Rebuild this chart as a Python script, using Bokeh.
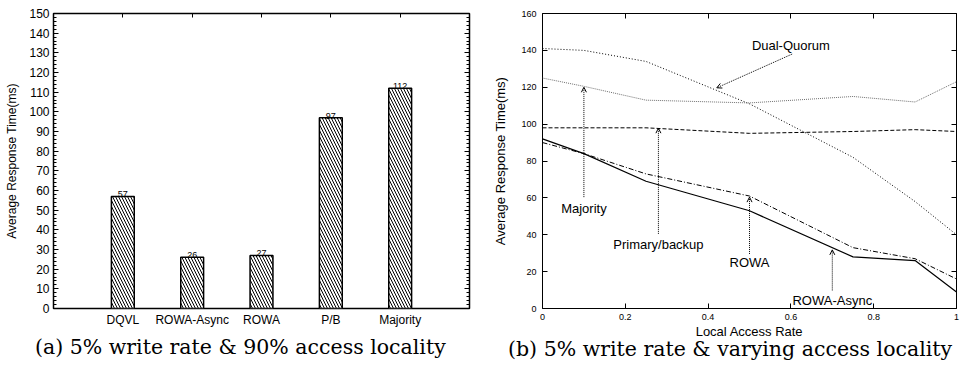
from bokeh.plotting import figure
from bokeh.layouts import row
from bokeh.models import (FactorRange, Range1d, SingleIntervalTicker, FixedTicker,
                          LinearAxis, CategoricalAxis, Title, Arrow, OpenHead,
                          ColumnDataSource, CustomJSTickFormatter)
from bokeh.core.properties import value
from bokeh.embed import file_html
from bokeh.resources import INLINE

# ---------------- data ----------------
categories = ["DQVL", "ROWA-Async", "ROWA", "P/B", "Majority"]
bar_values = [57, 26, 27, 97, 112]

access_rate = [0.0, 0.1, 0.25, 0.5, 0.75, 0.9, 1.0]
dual_quorum = [141, 140, 134, 111, 82, 58, 40]
majority = [125, 120.5, 113, 111.5, 115, 112, 123]
primary_backup = [98, 98, 98, 95, 96, 97, 96]
rowa = [92, 84, 69, 53, 28, 26, 9]
rowa_async = [90, 84, 73, 61, 33, 27, 16]

x_ticks = [0, 0.2, 0.4, 0.6, 0.8, 1]

ann_text = ["Dual-Quorum", "Majority", "Primary/backup", "ROWA", "ROWA-Async"]
ann_x = [0.6, 0.1, 0.28, 0.5, 0.7]
ann_y = [142.5, 54.5, 34.5, 24.8, 4.3]
arr_x0 = [0.603, 0.1, 0.28, 0.5, 0.7]
arr_y0 = [138, 60.4, 40.5, 29.6, 9.8]
arr_x1 = [0.421, 0.1, 0.28, 0.5, 0.7]
arr_y1 = [119.7, 120, 97.8, 60.4, 31.8]

caption_a = "(a) 5% write rate & 90% access locality"
caption_b = "(b) 5% write rate & varying access locality"

SANS = "Liberation Sans"
SERIF = "DejaVu Serif"


def hide_labels(ax):
    ax.major_label_text_font_size = "0px"
    ax.major_label_text_color = None
    ax.major_label_standoff = 0


def caption(text, offset, standoff):
    return Title(text=text, align="left", offset=offset, vertical_align="top",
                 standoff=standoff, text_font=SERIF, text_font_size="20.5px",
                 text_font_style="normal", text_color="black")


# ---------------- left: bar chart ----------------
p1 = figure(width=490, height=372,
            x_range=FactorRange(*categories, range_padding=0.2),
            y_range=Range1d(0, 150),
            output_backend="svg", toolbar_location=None,
            min_border_left=53, min_border_right=21,
            min_border_top=13, min_border_bottom=54)
p1.background_fill_color = "white"
p1.border_fill_color = "white"
p1.outline_line_color = "black"
p1.outline_line_width = 1.5
p1.xgrid.visible = False
p1.ygrid.visible = False

src1 = ColumnDataSource(dict(cat=categories, val=bar_values,
                             lab=[str(v) for v in bar_values]))
p1.vbar(x="cat", top="val", width=0.33, source=src1,
        fill_color="white", line_color="black", line_width=1.5,
        hatch_pattern="\\", hatch_color="black", hatch_scale=6, hatch_weight=1)
p1.text(x="cat", y="val", text="lab", source=src1,
        text_align="center", text_baseline="bottom", y_offset=1,
        text_font=value(SANS), text_font_size="9px", text_color="black")

ya = p1.yaxis[0]
ya.ticker = SingleIntervalTicker(interval=10, num_minor_ticks=5)
ya.axis_line_color = None
ya.major_tick_in = 5
ya.major_tick_out = 0
ya.minor_tick_in = 3
ya.minor_tick_out = 0
ya.major_label_standoff = 4
ya.major_label_text_font = SANS
ya.major_label_text_font_size = "12px"
ya.major_label_text_color = "black"
ya.axis_label = "Average Response Time(ms)"
ya.axis_label_text_font = SANS
ya.axis_label_text_font_style = "normal"
ya.axis_label_text_font_size = "12px"
ya.axis_label_text_color = "black"
ya.axis_label_standoff = 7

xa = p1.xaxis[0]
xa.axis_line_color = None
xa.major_tick_in = 0
xa.major_tick_out = 0
xa.major_label_standoff = 4
xa.major_label_text_font = SANS
xa.major_label_text_font_size = "12px"
xa.major_label_text_color = "black"

ra1 = LinearAxis(ticker=SingleIntervalTicker(interval=10, num_minor_ticks=5))
ra1.axis_line_color = None
ra1.major_tick_in = 5
ra1.major_tick_out = 0
ra1.minor_tick_in = 3
ra1.minor_tick_out = 0
hide_labels(ra1)
p1.add_layout(ra1, "right")

ta1 = CategoricalAxis()
ta1.axis_line_color = None
ta1.major_tick_in = 4
ta1.major_tick_out = 0
hide_labels(ta1)
p1.add_layout(ta1, "above")

p1.add_layout(caption(caption_a, -18.5, 10), "below")

# ---------------- right: line chart ----------------
p2 = figure(width=474, height=372,
            x_range=Range1d(0, 1), y_range=Range1d(0, 160),
            output_backend="svg", toolbar_location=None,
            min_border_left=50, min_border_right=8,
            min_border_top=13, min_border_bottom=64)
p2.background_fill_color = "white"
p2.border_fill_color = "white"
p2.outline_line_color = "black"
p2.outline_line_width = 1
p2.xgrid.visible = False
p2.ygrid.visible = False

p2.line(access_rate, dual_quorum, line_color="black", line_width=1, line_dash="1 2")
p2.line(access_rate, majority, line_color="#707070", line_width=1, line_dash="1 1")
p2.line(access_rate, primary_backup, line_color="black", line_width=1, line_dash="4 2")
p2.line(access_rate, rowa, line_color="black", line_width=1.2)
p2.line(access_rate, rowa_async, line_color="black", line_width=1, line_dash="5 2 1 2")

arr_src = ColumnDataSource(dict(x0=arr_x0, y0=arr_y0, x1=arr_x1, y1=arr_y1))
p2.add_layout(Arrow(x_start="x0", y_start="y0", x_end="x1", y_end="y1", source=arr_src,
                    line_color="black", line_width=1, line_dash="1 1",
                    end=OpenHead(size=5, line_width=1, line_color="black")))

ann_src = ColumnDataSource(dict(x=ann_x, y=ann_y, t=ann_text))
p2.text(x="x", y="y", text="t", source=ann_src, text_align="center",
        text_baseline="middle", text_font=value(SANS), text_font_size="13px",
        text_color="black")

ya2 = p2.yaxis[0]
ya2.ticker = SingleIntervalTicker(interval=20, num_minor_ticks=0)
ya2.axis_line_color = None
ya2.major_tick_in = 5
ya2.major_tick_out = 0
ya2.minor_tick_line_color = None
ya2.major_label_standoff = 6
ya2.major_label_text_font = SANS
ya2.major_label_text_font_size = "9px"
ya2.major_label_text_color = "black"
ya2.axis_label = "Average Response Time(ms)"
ya2.axis_label_text_font = SANS
ya2.axis_label_text_font_style = "normal"
ya2.axis_label_text_font_size = "13px"
ya2.axis_label_text_color = "black"
ya2.axis_label_standoff = 10

xa2 = p2.xaxis[0]
xa2.ticker = FixedTicker(ticks=x_ticks)
xa2.formatter = CustomJSTickFormatter(code="return String(tick);")
xa2.axis_line_color = None
xa2.major_tick_in = 5
xa2.major_tick_out = 0
xa2.minor_tick_line_color = None
xa2.major_label_standoff = 5
xa2.major_label_text_font = SANS
xa2.major_label_text_font_size = "9px"
xa2.major_label_text_color = "black"
xa2.axis_label = "Local Access Rate"
xa2.axis_label_text_font = SANS
xa2.axis_label_text_font_style = "normal"
xa2.axis_label_text_font_size = "13px"
xa2.axis_label_text_color = "black"
xa2.axis_label_standoff = 1

ra2 = LinearAxis(ticker=SingleIntervalTicker(interval=20, num_minor_ticks=0))
ra2.axis_line_color = None
ra2.major_tick_in = 5
ra2.major_tick_out = 0
ra2.minor_tick_line_color = None
hide_labels(ra2)
p2.add_layout(ra2, "right")

ta2 = LinearAxis(ticker=FixedTicker(ticks=x_ticks))
ta2.axis_line_color = None
ta2.major_tick_in = 5
ta2.major_tick_out = 0
ta2.minor_tick_line_color = None
hide_labels(ta2)
p2.add_layout(ta2, "above")

p2.add_layout(caption(caption_b, -34.5, -10), "below")

layout = row(p1, p2)
open("out.html", "w").write(file_html(layout, INLINE))
